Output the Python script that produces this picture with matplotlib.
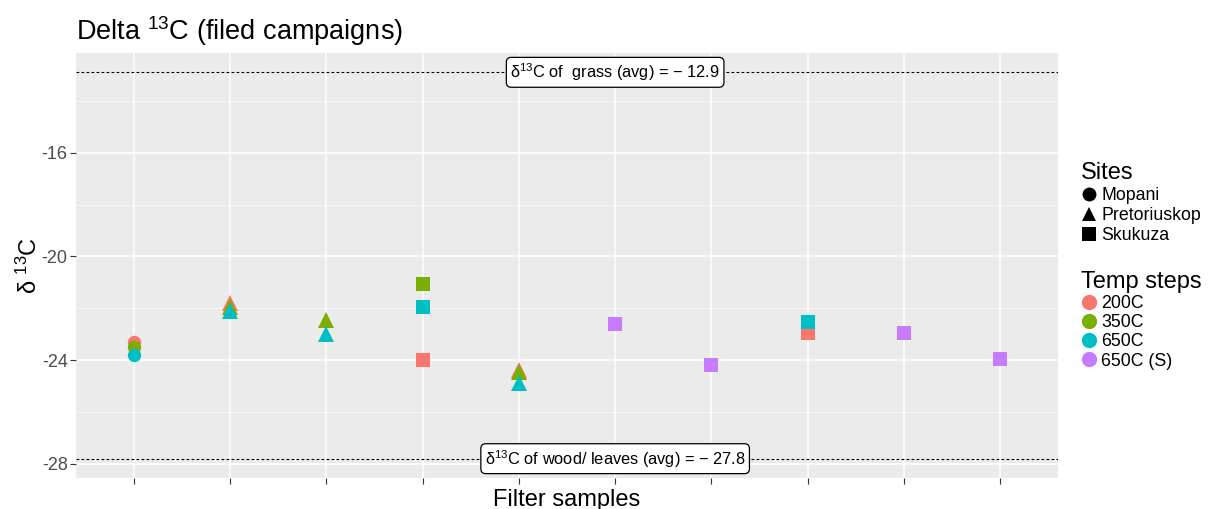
import matplotlib
matplotlib.use("Agg")
import matplotlib.pyplot as plt
from matplotlib.lines import Line2D

plt.rcParams['font.family'] = ['Liberation Sans', 'DejaVu Sans']
plt.rcParams['mathtext.fontset'] = 'custom'
plt.rcParams['mathtext.rm'] = 'Liberation Sans'
plt.rcParams['mathtext.it'] = 'Liberation Sans:italic'
plt.rcParams['mathtext.bf'] = 'Liberation Sans:bold'

# ---- data ----
samples = [1, 1, 1, 2, 2, 2, 3, 3, 4, 4, 4, 5, 5, 5, 6, 7, 8, 8, 9, 10]
sites = ["Mopani", "Mopani", "Mopani",
         "Pretoriuskop", "Pretoriuskop", "Pretoriuskop",
         "Pretoriuskop", "Pretoriuskop",
         "Skukuza", "Skukuza", "Skukuza",
         "Pretoriuskop", "Pretoriuskop", "Pretoriuskop",
         "Skukuza", "Skukuza", "Skukuza", "Skukuza", "Skukuza", "Skukuza"]
temps = ["200C", "350C", "650C",
         "200C", "350C", "650C",
         "350C", "650C",
         "200C", "350C", "650C",
         "200C", "350C", "650C",
         "650C (S)", "650C (S)", "200C", "650C", "650C (S)", "650C (S)"]
d13c = [-23.30, -23.48, -23.81,
        -21.78, -21.95, -22.10,
        -22.45, -23.01,
        -24.01, -21.08, -21.95,
        -24.37, -24.45, -24.87,
        -22.62, -24.20, -22.95, -22.52, -22.95, -23.94]
grass_avg = -12.9
wood_avg = -27.8

site_names = ["Mopani", "Pretoriuskop", "Skukuza"]
site_markers = {"Mopani": "o", "Pretoriuskop": "^", "Skukuza": "s"}
site_sizes = {"Mopani": 9.6, "Pretoriuskop": 11.0, "Skukuza": 9.4}
temp_names = ["200C", "350C", "650C", "650C (S)"]
temp_colors = {"200C": "#F8766D", "350C": "#7CAE00", "650C": "#00BFC4", "650C (S)": "#C77CFF"}

W, H = 1211, 509
fig = plt.figure(figsize=(W / 100, H / 100), dpi=100)
ax = fig.add_axes([76 / W, 1 - 478 / H, (1058 - 76) / W, (478 - 53) / H])
ax.set_facecolor("#EBEBEB")
for s in ax.spines.values():
    s.set_visible(False)

for x, s, t, v in zip(samples, sites, temps, d13c):
    ax.plot([x], [v], linestyle="none", marker=site_markers[s], markersize=site_sizes[s],
            color=temp_colors[t], markeredgewidth=0, zorder=3)

ax.axhline(grass_avg, color="black", linestyle=(0, (2.5, 2)), linewidth=0.8, zorder=2)
ax.axhline(wood_avg, color="black", linestyle=(0, (2.5, 2)), linewidth=0.8, zorder=2)

box = dict(boxstyle="round,pad=0.25,rounding_size=0.3", facecolor="white", edgecolor="black", linewidth=0.9)
ax.text(6.0, grass_avg, r"δ$^{13}$C of  grass (avg) = $-$ 12.9", ha="center", va="center",
        fontsize=11.8, bbox=box, zorder=4)
ax.text(6.0, wood_avg, r"δ$^{13}$C of wood/ leaves (avg) = $-$ 27.8", ha="center", va="center",
        fontsize=11.8, bbox=box, zorder=4)

ax.set_xlim(0.4, 10.6)
ax.set_ylim(-28.545, -12.155)
ax.set_xticks(range(1, 11))
ax.set_xticklabels([])
ax.set_yticks([-16, -20, -24, -28])
ax.set_yticklabels(["-16", "-20", "-24", "-28"])
ax.set_yticks([-14, -18, -22, -26], minor=True)
ax.grid(True, which="major", color="white", linewidth=1.1)
ax.grid(True, which="minor", axis="y", color="white", linewidth=0.5)
ax.set_axisbelow(True)
ax.tick_params(axis="both", which="major", length=4, color="#333333", width=0.8,
               labelsize=13, labelcolor="#4D4D4D", pad=2)
ax.tick_params(axis="y", which="minor", length=0)

ax.set_xlabel("Filter samples", fontsize=17, labelpad=2)
ax.set_ylabel(r"δ $^{13}$C", fontsize=17, labelpad=0)
fig.text(76 / W, 1 - 31 / H, r"Delta $^{13}$C (filed campaigns)", fontsize=19.5, ha="left", va="center")

site_handles = [Line2D([], [], linestyle="none", marker=site_markers[n], color="black",
                       markersize=10, markeredgewidth=0) for n in site_names]
leg1 = fig.legend(site_handles, site_names, title="Sites", loc="upper left",
                  bbox_to_anchor=(1081 / W, 1 - 162 / H), frameon=False, fontsize=12.8,
                  title_fontsize=17, handlelength=0.9, handletextpad=0.25, labelspacing=0.17,
                  borderaxespad=0, borderpad=0)
leg1._legend_box.align = "left"
temp_handles = [Line2D([], [], linestyle="none", marker="o", color=temp_colors[n],
                       markersize=11, markeredgewidth=0) for n in temp_names]
leg2 = fig.legend(temp_handles, temp_names, title="Temp steps", loc="upper left",
                  bbox_to_anchor=(1081 / W, 1 - 271 / H), frameon=False, fontsize=12.8,
                  title_fontsize=17, handlelength=0.9, handletextpad=0.25, labelspacing=0.12,
                  borderaxespad=0, borderpad=0)
leg2._legend_box.align = "left"

fig.savefig("out.png", dpi=100)
